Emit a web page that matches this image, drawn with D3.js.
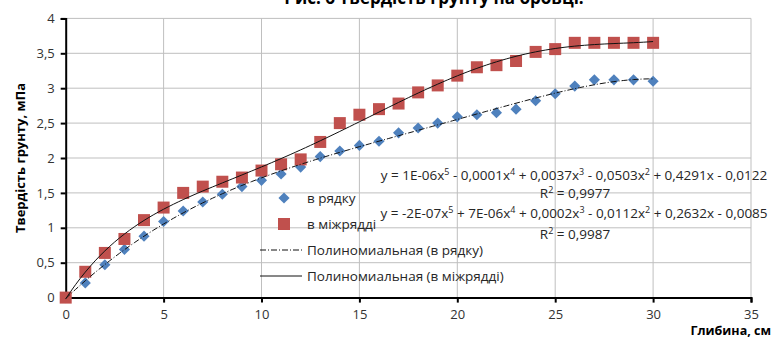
<!DOCTYPE html>
<html>
<head>
<meta charset="utf-8">
<script src="https://cdn.jsdelivr.net/npm/d3@7"></script>
<style>
  body { margin: 0; background: #fff; }
  svg text { font-family: "Open Sans", sans-serif; fill: #262626; }
</style>
</head>
<body>
<div id="chart"></div>
<script>
// depth, cm
var depth = [0, 1, 2, 3, 4, 5, 6, 7, 8, 9, 10, 11, 12, 13, 14, 15, 16, 17, 18, 19, 20,
             21, 22, 23, 24, 25, 26, 27, 28, 29, 30];
// в рядку
var inRow = [0, 0.21, 0.47, 0.69, 0.88, 1.09, 1.24, 1.37, 1.48, 1.59, 1.68, 1.77, 1.87, 2.02, 2.10, 2.18,
             2.24, 2.36, 2.43, 2.50, 2.59, 2.62, 2.65, 2.70, 2.82, 2.92, 3.03, 3.12, 3.12, 3.12, 3.10];
// в міжрядді
var betweenRows = [0, 0.37, 0.64, 0.84, 1.11, 1.29, 1.50, 1.59, 1.66, 1.72, 1.82, 1.91, 1.98, 2.23, 2.50, 2.62,
                   2.70, 2.78, 2.94, 3.04, 3.18, 3.30, 3.33, 3.39, 3.52, 3.56, 3.65, 3.65, 3.65, 3.65, 3.65];

var xTicks = [0, 5, 10, 15, 20, 25, 30, 35];
var yTicks = [0, 0.5, 1, 1.5, 2, 2.5, 3, 3.5, 4];

var title = "Рис. 6 Твердість грунту на бровці.";
var yTitle = "Твердість грунту, мПа";
var xTitle = "Глибина, см";
var seriesNames = ["в рядку", "в міжрядді", "Полиномиальная (в рядку)", "Полиномиальная (в міжрядді)"];
var eqRow = [["y = 1E-06x", "5"], [" - 0,0001x", "4"], [" + 0,0037x", "3"], [" - 0,0503x", "2"], [" + 0,4291x - 0,0122", ""]];
var eqBetween = [["y = -2E-07x", "5"], [" + 7E-06x", "4"], [" + 0,0002x", "3"], [" - 0,0112x", "2"], [" + 0,2632x - 0,0085", ""]];
var r2Row = "0,9977", r2Between = "0,9987";

var width = 772, height = 340;
var blue = "#4F81BD", red = "#C0504D";

var svg = d3.select("#chart").append("svg")
    .attr("width", width)
    .attr("height", height);

var x = d3.scaleLinear().domain([0, 35]).range([65.7, 751]);
var y = d3.scaleLinear().domain([0, 4]).range([297.6, 18.4]);

var fmt = function(d) { return String(d).replace(".", ","); };

// grid
svg.append("g").selectAll("line.h")
  .data(yTicks.slice(1))
  .enter().append("line")
    .attr("x1", x(0)).attr("x2", x(35))
    .attr("y1", function(d) { return y(d); })
    .attr("y2", function(d) { return y(d); })
    .style("stroke", "#bfbfbf");
svg.append("g").selectAll("line.v")
  .data(xTicks.slice(1))
  .enter().append("line")
    .attr("x1", function(d) { return x(d); })
    .attr("x2", function(d) { return x(d); })
    .attr("y1", y(0)).attr("y2", y(4))
    .style("stroke", "#bfbfbf");

// axes
var xAxis = svg.append("g")
    .attr("transform", "translate(0," + y(0) + ")")
    .call(d3.axisBottom(x).tickValues(xTicks).tickFormat(fmt).tickSizeOuter(0).tickSize(5).tickPadding(7));
var yAxis = svg.append("g")
    .attr("transform", "translate(" + x(0) + ",0)")
    .call(d3.axisLeft(y).tickValues(yTicks).tickFormat(fmt).tickSizeOuter(0).tickSize(5).tickPadding(6));
[xAxis, yAxis].forEach(function(a) {
  a.select(".domain").style("stroke", "#000").style("stroke-width", 2);
  a.selectAll(".tick line").style("stroke", "#000").style("stroke-width", 2);
  a.selectAll(".tick text").style("font-family", "Open Sans").style("font-size", "13px").style("fill", "#333");
});

// polynomial least squares (degree 5), like an Excel trendline
function polyFit(xs, ys, deg) {
  var s = 30, n = deg + 1;
  var A = [], b = [];
  for (var i = 0; i < n; i++) { A.push(new Array(n).fill(0)); b.push(0); }
  xs.forEach(function(xv, k) {
    var t = xv / s;
    for (var i = 0; i < n; i++) {
      b[i] += ys[k] * Math.pow(t, i);
      for (var j = 0; j < n; j++) A[i][j] += Math.pow(t, i + j);
    }
  });
  for (var c = 0; c < n; c++) {
    var p = c;
    for (var r = c + 1; r < n; r++) if (Math.abs(A[r][c]) > Math.abs(A[p][c])) p = r;
    var tmp = A[c]; A[c] = A[p]; A[p] = tmp;
    var tb = b[c]; b[c] = b[p]; b[p] = tb;
    for (var r2 = c + 1; r2 < n; r2++) {
      var f = A[r2][c] / A[c][c];
      for (var j2 = c; j2 < n; j2++) A[r2][j2] -= f * A[c][j2];
      b[r2] -= f * b[c];
    }
  }
  var coef = new Array(n).fill(0);
  for (var i2 = n - 1; i2 >= 0; i2--) {
    var sum = b[i2];
    for (var j3 = i2 + 1; j3 < n; j3++) sum -= A[i2][j3] * coef[j3];
    coef[i2] = sum / A[i2][i2];
  }
  return function(xv) {
    var t = xv / s, v = 0;
    for (var i = n - 1; i >= 0; i--) v = v * t + coef[i];
    return v;
  };
}

var fitRow = polyFit(depth, inRow, 5);
var fitBetween = polyFit(depth, betweenRows, 5);
var xs = d3.range(0, 30.001, 0.25);
var line = function(f) {
  return d3.line().x(function(d) { return x(d); }).y(function(d) { return y(f(d)); })(xs);
};

// markers
var diamond = d3.symbol().type(d3.symbolSquare).size(62);
var square = d3.symbol().type(d3.symbolSquare).size(144);

svg.append("g").selectAll("path")
  .data(depth)
  .enter().append("path")
    .attr("d", diamond)
    .attr("transform", function(d, i) { return "translate(" + x(d) + "," + y(inRow[i]) + ") rotate(45)"; })
    .style("fill", blue);

svg.append("g").selectAll("path")
  .data(depth)
  .enter().append("path")
    .attr("d", square)
    .attr("transform", function(d, i) { return "translate(" + x(d) + "," + y(betweenRows[i]) + ")"; })
    .style("fill", red);

// trendlines on top
svg.append("path").attr("d", line(fitRow))
  .style("fill", "none").style("stroke", "#111").style("stroke-width", 1)
  .style("stroke-dasharray", "6,2,1,2");
svg.append("path").attr("d", line(fitBetween))
  .style("fill", "none").style("stroke", "#111").style("stroke-width", 1);

// legend
var lg = svg.append("g");
lg.append("path").attr("d", diamond).attr("transform", "translate(284,198) rotate(45)").style("fill", blue);
lg.append("path").attr("d", square).attr("transform", "translate(284,224)").style("fill", red);
lg.append("line").attr("x1", 260).attr("x2", 302).attr("y1", 250).attr("y2", 250)
  .style("stroke", "#111").style("stroke-dasharray", "6,2,1,2");
lg.append("line").attr("x1", 260).attr("x2", 302).attr("y1", 276).attr("y2", 276)
  .style("stroke", "#111");
lg.selectAll("text")
  .data(seriesNames)
  .enter().append("text")
    .attr("x", 307)
    .attr("y", function(d, i) { return [198, 224, 250, 276][i]; })
    .attr("dy", "0.35em")
    .style("font-size", "13.5px")
    .text(function(d) { return d; });

// trendline equations, with superscript powers
function equation(parts, yPos) {
  var t = svg.append("text").attr("x", 574).attr("y", yPos).attr("text-anchor", "middle")
    .style("font-size", "13.5px");
  var shifted = false;
  parts.forEach(function(p) {
    t.append("tspan").attr("dy", shifted ? 5 : 0).text(p[0]);
    shifted = false;
    if (p[1]) {
      t.append("tspan").attr("dy", -5).style("font-size", "9px").text(p[1]);
      shifted = true;
    }
  });
}
function r2(val, yPos) {
  var t = svg.append("text").attr("x", 575).attr("y", yPos).attr("text-anchor", "middle")
    .style("font-size", "13.5px");
  t.append("tspan").text("R");
  t.append("tspan").attr("dy", -5).style("font-size", "9px").text("2");
  t.append("tspan").attr("dy", 5).text(" = " + val);
}
equation(eqRow, 180);
r2(r2Row, 198);
equation(eqBetween, 218);
r2(r2Between, 239);

// titles
svg.append("text").attr("x", 434).attr("y", 4).attr("text-anchor", "middle")
  .style("font-size", "17px").style("font-weight", "bold").style("fill", "#000")
  .text(title);
svg.append("text")
  .attr("transform", "translate(25,158) rotate(-90)")
  .attr("text-anchor", "middle")
  .style("font-size", "13px").style("font-weight", "bold").style("fill", "#000")
  .text(yTitle);
svg.append("text").attr("x", 771).attr("y", 335).attr("text-anchor", "end")
  .style("font-size", "12.5px").style("font-weight", "bold").style("fill", "#000")
  .text(xTitle);
</script>
</body>
</html>
